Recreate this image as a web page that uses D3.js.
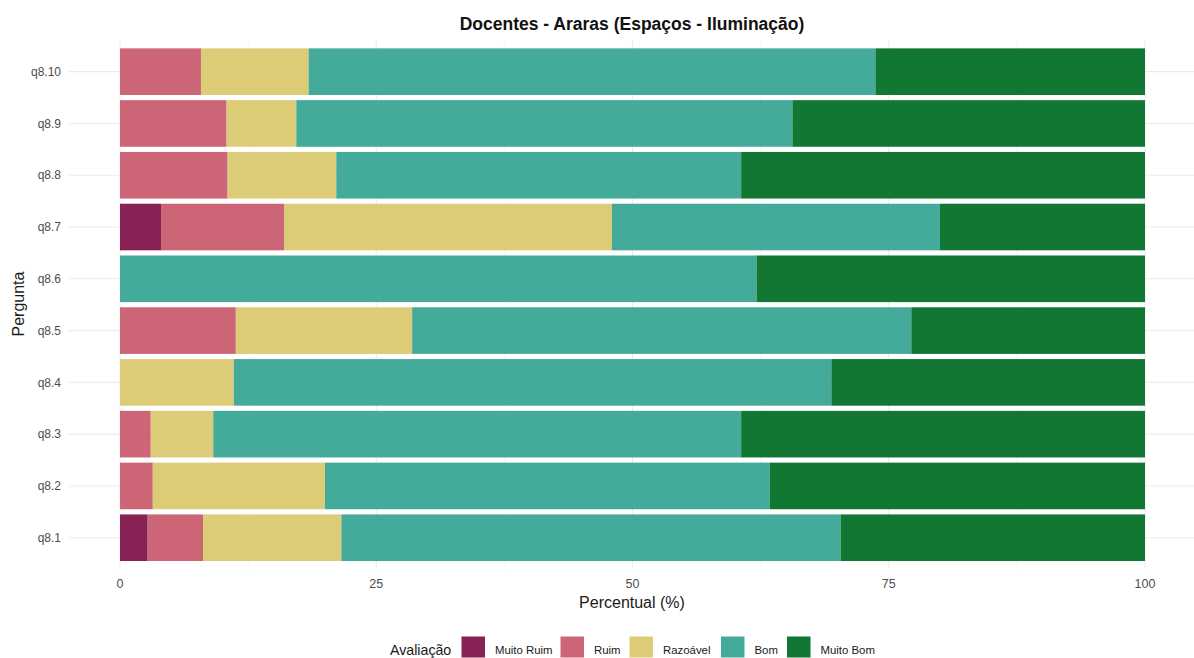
<!DOCTYPE html>
<html>
<head>
<meta charset="utf-8">
<script src="https://cdn.jsdelivr.net/npm/d3@7"></script>
<style>
  html, body { margin: 0; padding: 0; background: #fff; }
  svg text { font-family: "Liberation Sans", Arial, sans-serif; }
</style>
</head>
<body>
<svg id="chart" width="1194" height="658"></svg>
<script>
// ---- Data (percent per answer category) ----
const categories = ["q8.1","q8.2","q8.3","q8.4","q8.5","q8.6","q8.7","q8.8","q8.9","q8.10"];
const seriesNames = ["Muito Ruim","Ruim","Razoável","Bom","Muito Bom"];
const muitoRuim = [2.7, 0,    0,    0,    0,    0,    4.0,  0,    0,    0   ];
const ruim      = [5.4, 3.2,  3.0,  0,    11.3, 0,    12.0, 10.5, 10.4, 7.9 ];
const razoavel  = [13.5,16.8, 6.1,  11.1, 17.2, 0,    32.0, 10.6, 6.8,  10.5];
const bom       = [48.7,43.4, 51.5, 58.3, 48.7, 62.1, 32.0, 39.5, 48.4, 55.3];
const muitoBom  = [29.7,36.6, 39.4, 30.6, 22.8, 37.9, 20.0, 39.4, 34.4, 26.3];
const xTicks = [0, 25, 50, 75, 100];
const xMinorTicks = [12.5, 37.5, 62.5, 87.5];
const colors = ["#882255","#CC6677","#DDCC77","#44AA99","#117733"];

const seriesValues = [muitoRuim, ruim, razoavel, bom, muitoBom];
const rows = categories.map((c, i) => {
  const r = { cat: c };
  seriesNames.forEach((s, j) => r[s] = seriesValues[j][i]);
  return r;
});

const svg = d3.select("#chart");

// panel
const x = d3.scaleLinear().domain([0, 100]).range([120, 1145]);
const xPanel = [x(-5), x(105)];
const y = d3.scaleBand()
  .domain(categories.slice().reverse())
  .range([40.6, 568.8])
  .paddingInner(0.1)
  .paddingOuter(0.15);

const grid = svg.append("g");
grid.selectAll("line.minor").data(xMinorTicks).join("line")
  .attr("x1", d => x(d)).attr("x2", d => x(d))
  .attr("y1", 40.6).attr("y2", 568.8)
  .attr("stroke", "#f1f1f1").attr("stroke-width", 0.6);
grid.selectAll("line.vmaj").data(xTicks).join("line")
  .attr("x1", d => x(d)).attr("x2", d => x(d))
  .attr("y1", 40.6).attr("y2", 568.8)
  .attr("stroke", "#ebebeb").attr("stroke-width", 1.1);
grid.selectAll("line.hmaj").data(categories).join("line")
  .attr("x1", xPanel[0]).attr("x2", xPanel[1])
  .attr("y1", d => y(d) + y.bandwidth() / 2).attr("y2", d => y(d) + y.bandwidth() / 2)
  .attr("stroke", "#ebebeb").attr("stroke-width", 1.1);

// stacked bars
const stacked = d3.stack().keys(seriesNames)(rows);
svg.append("g").selectAll("g").data(stacked).join("g")
  .attr("fill", (d, i) => colors[i])
  .selectAll("rect").data(d => d.filter(p => p[1] - p[0] > 0)).join("rect")
  .attr("x", d => x(d[0]))
  .attr("width", d => x(d[1]) - x(d[0]))
  .attr("y", d => y(d.data.cat))
  .attr("height", y.bandwidth());

// y axis labels
svg.append("g").selectAll("text").data(categories).join("text")
  .attr("x", 61)
  .attr("y", d => y(d) + y.bandwidth() / 2)
  .attr("dy", "0.35em")
  .attr("text-anchor", "end")
  .attr("font-size", 12)
  .attr("fill", "#4d4d4d")
  .text(d => d);

// x axis labels
svg.append("g").selectAll("text").data(xTicks).join("text")
  .attr("x", d => x(d))
  .attr("y", 588)
  .attr("text-anchor", "middle")
  .attr("font-size", 12.5)
  .attr("fill", "#4d4d4d")
  .text(d => d);

// axis titles
svg.append("text")
  .attr("x", (xPanel[0] + xPanel[1]) / 2 - 0.5)
  .attr("y", 608)
  .attr("text-anchor", "middle")
  .attr("font-size", 16)
  .attr("fill", "#1a1a1a")
  .text("Percentual (%)");

svg.append("text")
  .attr("transform", "translate(23.5,304) rotate(-90)")
  .attr("text-anchor", "middle")
  .attr("font-size", 16)
  .attr("fill", "#1a1a1a")
  .text("Pergunta");

// title
svg.append("text")
  .attr("x", 632)
  .attr("y", 30)
  .attr("text-anchor", "middle")
  .attr("font-size", 17.5)
  .attr("font-weight", "bold")
  .attr("fill", "#111")
  .text("Docentes - Araras (Espaços - Iluminação)");

// legend
const leg = svg.append("g");
leg.append("text")
  .attr("x", 390).attr("y", 655)
  .attr("font-size", 14.2)
  .attr("fill", "#1a1a1a")
  .text("Avaliação");
const keyX = [461.5, 560.5, 629.5, 721, 787];
seriesNames.forEach((s, i) => {
  leg.append("rect")
    .attr("x", keyX[i]).attr("y", 636.5)
    .attr("width", 23.5).attr("height", 21)
    .attr("fill", colors[i]);
  leg.append("text")
    .attr("x", keyX[i] + 33.5).attr("y", 654)
    .attr("font-size", 11.4)
    .attr("fill", "#1a1a1a")
    .text(s);
});
</script>
</body>
</html>
